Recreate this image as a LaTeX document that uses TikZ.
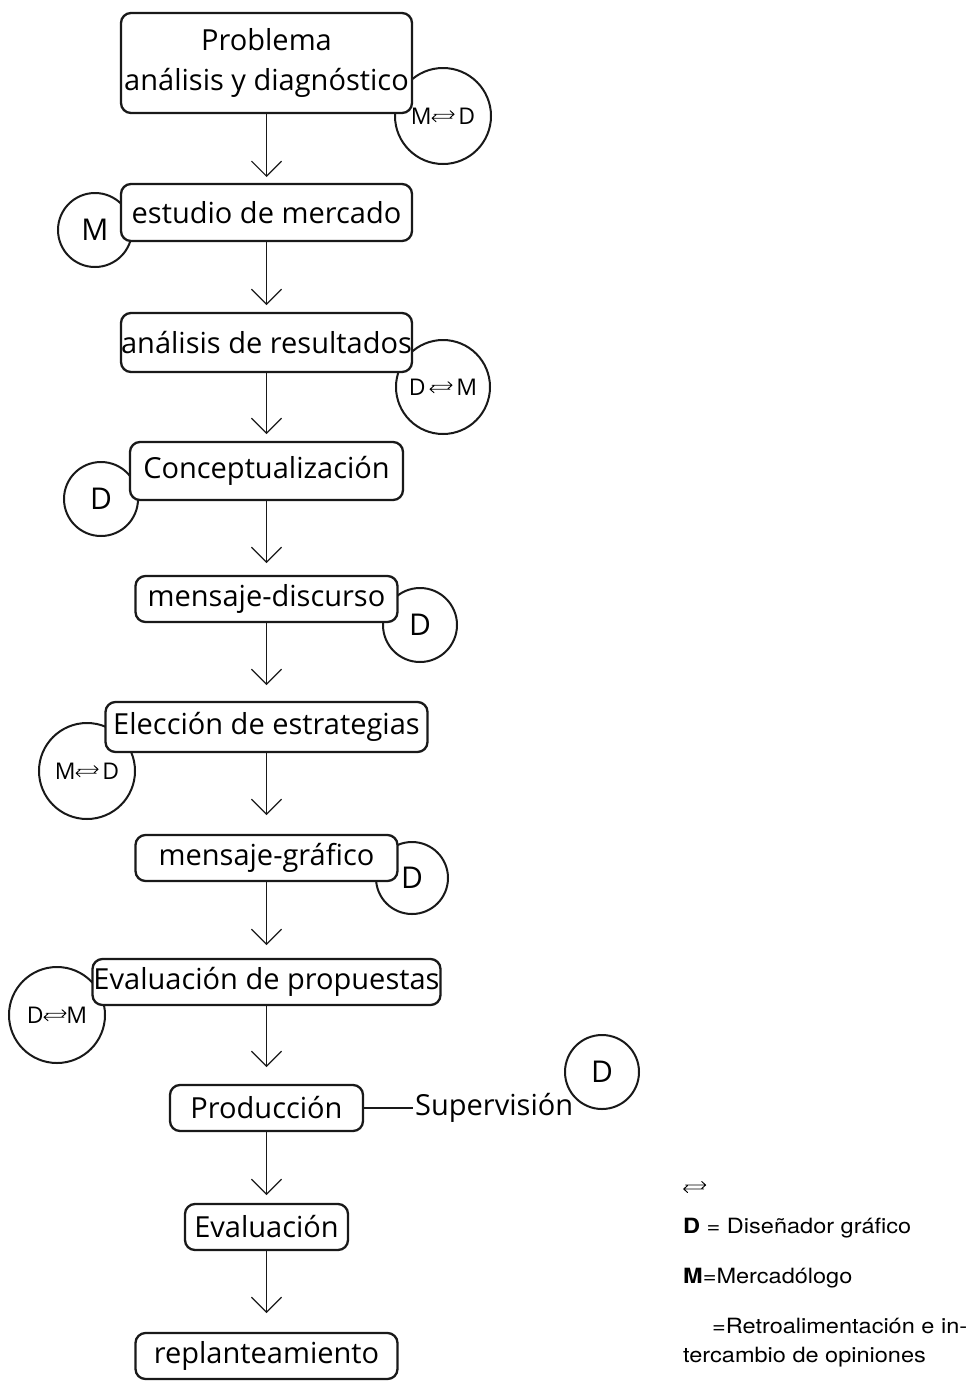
\documentclass[tikz,border=0pt]{standalone}
\usepackage{fontspec}
\setmainfont{Open Sans}
\newfontfamily\leyendafont{TeX Gyre Heros}[FakeStretch=1.12]
\usepackage{tikz}
\usetikzlibrary{arrows.meta, positioning}
\newcommand{\retro}{\tikz[baseline=-2pt, x=1pt, y=1pt, line width=0.9pt, line cap=round, line join=round]
  \draw (4,8)--(24,8) (20,11.5)--(24,8)--(20,4.5) (2,4)--(22,4) (6,7.5)--(2,4)--(6,0.5);}
\tikzset{
  etapa/.style={rectangle, rounded corners=10pt, draw=black!90, line width=2.3pt, fill=white, outer sep=0pt,
                align=center, minimum height=46pt, inner sep=0pt, font=\fontsize{29}{40}\selectfont},
  rol/.style={circle, draw=black!90, line width=2pt, inner sep=0pt, font=\fontsize{30}{36}\selectfont},
  rolpar/.style={rol, font=\fontsize{23}{28}\selectfont},
  flecha/.style={-{Straight Barb[length=15pt, width=30pt]}, line width=1.2pt, draw=black!90},
  leyenda/.style={anchor=base west, inner sep=0pt, font=\leyendafont\fontsize{21}{26}\selectfont},
}

\begin{document}
\begin{tikzpicture}[x=1pt, y=-1pt]
  \useasboundingbox (0,0) rectangle (975,1384);

  % roles (drawn first, the boxes cover them)
  \node[rolpar, minimum size=96pt] (r1) at (443,116) {M\retro\,D};
  \node[rol, minimum size=74pt]    (r2) at (95,230)  {M};
  \node[rolpar, minimum size=94pt] (r3) at (443,387) {D\,\retro\,M};
  \node[rol, minimum size=74pt]    (r4) at (101,499) {D};
  \node[rol, minimum size=74pt]    (r5) at (420,625) {D};
  \node[rolpar, minimum size=96pt] (r6) at (87,771)  {M\retro\,D};
  \node[rol, minimum size=72pt]    (r7) at (412,878) {D};
  \node[rolpar, minimum size=96pt] (r8) at (57,1015) {D\retro M};
  \node[rol, minimum size=74pt]    (r9) at (602,1072) {D};

  % etapas
  \node[etapa, minimum width=291pt, minimum height=100pt] (problema) at (266.5,63) {Problema\\análisis y diagnóstico};
  \node[etapa, minimum width=291pt, minimum height=57pt, below=71pt of problema]   (mercado)     {estudio de mercado};
  \node[etapa, minimum width=291pt, minimum height=59pt, below=72pt of mercado]    (resultados)  {análisis de resultados};
  \node[etapa, minimum width=273pt, minimum height=58pt, below=70pt of resultados] (concepto)    {Conceptualización};
  \node[etapa, minimum width=262pt, below=76pt of concepto]                        (discurso)    {mensaje-discurso};
  \node[etapa, minimum width=322pt, minimum height=50pt, below=80pt of discurso]   (estrategias) {Elección de estrategias};
  \node[etapa, minimum width=262pt, below=83pt of estrategias]                     (grafico)     {mensaje-gráfico};
  \node[etapa, minimum width=348pt, below=78pt of grafico]                         (propuestas)  {Evaluación de propuestas};
  \node[etapa, minimum width=193pt, below=80pt of propuestas]                      (produccion)  {Producción};
  \node[etapa, minimum width=163pt, below=73pt of produccion]                      (evaluacion)  {Evaluación};
  \node[etapa, minimum width=262pt, below=83pt of evaluacion]                      (replanteo)   {replanteamiento};
  \node[right=50pt of produccion, inner sep=2pt, font=\fontsize{29}{36}\selectfont] (supervision) {Supervisión};

  \draw[flecha, shorten >=7pt]  (problema.south) -- (mercado.north);
  \draw[flecha, shorten >=8pt]  (mercado.south) -- (resultados.north);
  \draw[flecha, shorten >=8pt]  (resultados.south) -- (concepto.north);
  \draw[flecha, shorten >=13pt] (concepto.south) -- (discurso.north);
  \draw[flecha, shorten >=17pt] (discurso.south) -- (estrategias.north);
  \draw[flecha, shorten >=20pt] (estrategias.south) -- (grafico.north);
  \draw[flecha, shorten >=14pt] (grafico.south) -- (propuestas.north);
  \draw[flecha, shorten >=18pt] (propuestas.south) -- (produccion.north);
  \draw[flecha, shorten >=9pt]  (produccion.south) -- (evaluacion.north);
  \draw[flecha, shorten >=20pt] (evaluacion.south) -- (replanteo.north);
  \draw[line width=1.8pt, draw=black!90] (produccion.east) -- (supervision.west);

  % leyenda
  \node[leyenda] (simbolo)     at (683,1195) {\retro};
  \node[leyenda] (disenador)   at (683,1233) {\textbf{D} = Diseñador gráfico};
  \node[leyenda] (mercadologo) at (683,1283) {\textbf{M}=Mercadólogo};
  \node[leyenda] (retroal)     at (712,1333) {=Retroalimentación e in-};
  \node[leyenda] (opiniones)   at (683,1362) {tercambio de opiniones};
\end{tikzpicture}
\end{document}
